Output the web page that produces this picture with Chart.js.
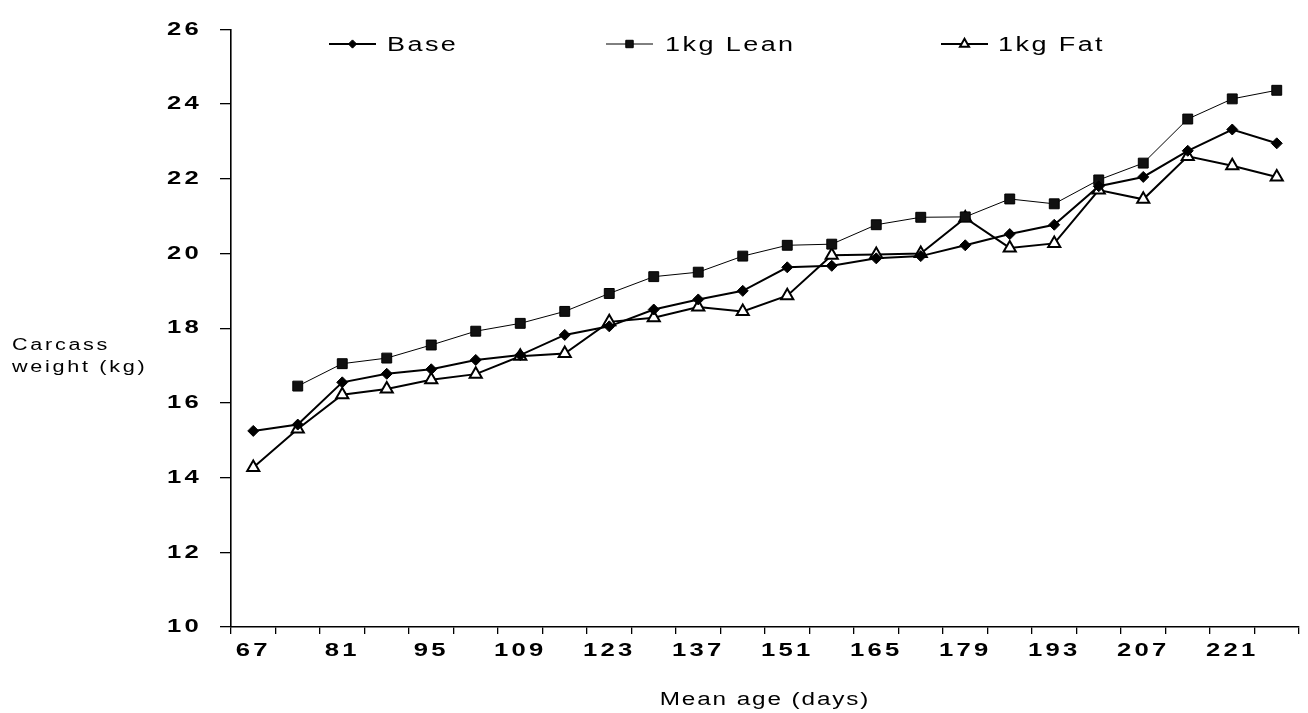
<!DOCTYPE html>
<html>
<head>
<meta charset="utf-8">
<script src="https://cdn.jsdelivr.net/npm/chart.js@4.4.0/dist/chart.umd.min.js"></script>
<style>
html,body{margin:0;padding:0;background:#fff;}
#wrap{width:1308px;height:713px;position:relative;}
</style>
</head>
<body>
<div id="wrap"><canvas id="c"></canvas></div>
<script>
// ---- data ----
const ages = [67,74,81,88,95,102,109,116,123,130,137,144,151,158,165,172,179,186,193,200,207,214,221,228];
const xTickLabels = ['67','81','95','109','123','137','151','165','179','193','207','221'];
const yTickValues = [10,12,14,16,18,20,22,24,26];
const base = [15.25,15.42,16.55,16.78,16.9,17.15,17.28,17.82,18.05,18.5,18.77,19.0,19.63,19.67,19.87,19.93,20.22,20.52,20.77,21.8,22.05,22.75,23.32,22.95];
const lean = [null,16.45,17.05,17.2,17.55,17.92,18.13,18.45,18.93,19.38,19.5,19.93,20.22,20.25,20.77,20.97,20.98,21.46,21.33,21.97,22.42,23.6,24.14,24.37];
const fat  = [14.27,15.3,16.22,16.37,16.62,16.77,17.25,17.32,18.17,18.28,18.57,18.45,18.87,19.95,19.97,20.0,20.95,20.15,20.27,21.7,21.45,22.6,22.35,22.05];
const seriesNames = ['Base','1kg Lean','1kg Fat'];
const yTitleLines = ['Carcass','weight (kg)'];
const xTitle = 'Mean age (days)';

const FONT = 'Liberation Sans';
const S = 1.35; // horizontal stretch of the scanned lettering

const stretchText = {
  id: 'stretchText',
  beforeInit(chart) {
    const ctx = chart.ctx;
    const orig = ctx.fillText.bind(ctx);
    ctx.fillText = function (t, x, y) {
      const f = ctx.font;
      let ls = 2;
      if (/bold/.test(f)) ls = 2.4;
      else if (/18px/.test(f)) ls = 1.4;
      else if (/16px/.test(f)) ls = 2.0;
      else if (/20px/.test(f)) ls = 1.8;
      ctx.save();
      ctx.translate(x, y);
      ctx.scale(S, 1);
      ctx.letterSpacing = ls + 'px';
      orig(t, 0, 0);
      ctx.restore();
    };
  }
};

const legendItems = [
  {x1: 329, x2: 376, tx: 387},
  {x1: 606, x2: 653, tx: 665},
  {x1: 941, x2: 988, tx: 998}
];
const customLegend = {
  id: 'customLegend',
  afterDraw(chart) {
    const ctx = chart.ctx;
    const y = 44;
    chart.data.datasets.forEach((ds, i) => {
      const it = legendItems[i];
      ctx.save();
      ctx.strokeStyle = ds.borderColor;
      ctx.lineWidth = ds.borderWidth;
      ctx.beginPath();
      ctx.moveTo(it.x1, y);
      ctx.lineTo(it.x2, y);
      ctx.stroke();
      ctx.fillStyle = ds.pointBackgroundColor;
      ctx.strokeStyle = ds.pointBorderColor;
      ctx.lineWidth = ds.pointBorderWidth;
      Chart.helpers.drawPoint(ctx, {pointStyle: ds.pointStyle, radius: ds.pointRadius * 0.75, rotation: 0, borderWidth: ds.pointBorderWidth}, (it.x1 + it.x2) / 2, y);
      ctx.fillStyle = '#000';
      ctx.font = '20px "' + FONT + '"';
      ctx.textAlign = 'left';
      ctx.textBaseline = 'middle';
      ctx.fillText(ds.label, it.tx, y + 1);
      ctx.restore();
    });
  }
};

const yTitle = {
  id: 'yTitle',
  afterDraw(chart) {
    const ctx = chart.ctx;
    ctx.save();
    ctx.fillStyle = '#000';
    ctx.font = '16px "' + FONT + '"';
    ctx.textAlign = 'left';
    ctx.textBaseline = 'alphabetic';
    ctx.fillText(yTitleLines[0], 12, 350);
    ctx.fillText(yTitleLines[1], 12, 372);
    ctx.restore();
  }
};

new Chart(document.getElementById('c'), {
  type: 'line',
  data: {
    labels: ages,
    datasets: [
      {label: seriesNames[0], data: base, borderColor: '#000', borderWidth: 2, tension: 0,
       pointStyle: 'rectRot', pointRadius: 5.5, pointBackgroundColor: '#000', pointBorderColor: '#000', pointBorderWidth: 1},
      {label: seriesNames[1], data: lean, borderColor: '#000', borderWidth: 1, tension: 0,
       pointStyle: 'rect', pointRadius: 7, pointBackgroundColor: '#111', pointBorderColor: '#000', pointBorderWidth: 1},
      {label: seriesNames[2], data: fat, borderColor: '#000', borderWidth: 2, tension: 0,
       pointStyle: 'triangle', pointRadius: 7, pointBackgroundColor: '#fff', pointBorderColor: '#000', pointBorderWidth: 2}
    ]
  },
  options: {
    responsive: true,
    maintainAspectRatio: false,
    animation: false,
    layout: {padding: {top: 24, right: 2, left: 0, bottom: 0}},
    plugins: {legend: {display: false}, tooltip: {enabled: false}},
    scales: {
      x: {
        type: 'category',
        offset: true,
        grid: {offset: true, drawOnChartArea: false, drawTicks: true, tickLength: 7, color: '#000', lineWidth: 1.3},
        border: {color: '#000', width: 1.6},
        ticks: {
          autoSkip: false, maxRotation: 0, minRotation: 0, padding: 5, color: '#000',
          font: {family: FONT, size: 19, weight: 'bold'},
          callback(v) { const l = String(this.getLabelForValue(v)); return xTickLabels.includes(l) ? l : ''; }
        },
        title: {display: true, text: xTitle, color: '#000', font: {family: FONT, size: 18}, padding: {top: 0, bottom: 2}},
        afterFit(s) { s.height = 86; }
      },
      y: {
        min: 10, max: 26,
        afterBuildTicks(s) { s.ticks = yTickValues.map(v => ({value: v})); },
        ticks: {padding: 18, color: '#000', font: {family: FONT, size: 19, weight: 'bold'}},
        grid: {drawOnChartArea: false, tickLength: 11, color: '#000', lineWidth: 1.3},
        border: {color: '#000', width: 1.6},
        afterFit(s) { s.width = 231; }
      }
    }
  },
  plugins: [stretchText, customLegend, yTitle]
});
</script>
</body>
</html>
